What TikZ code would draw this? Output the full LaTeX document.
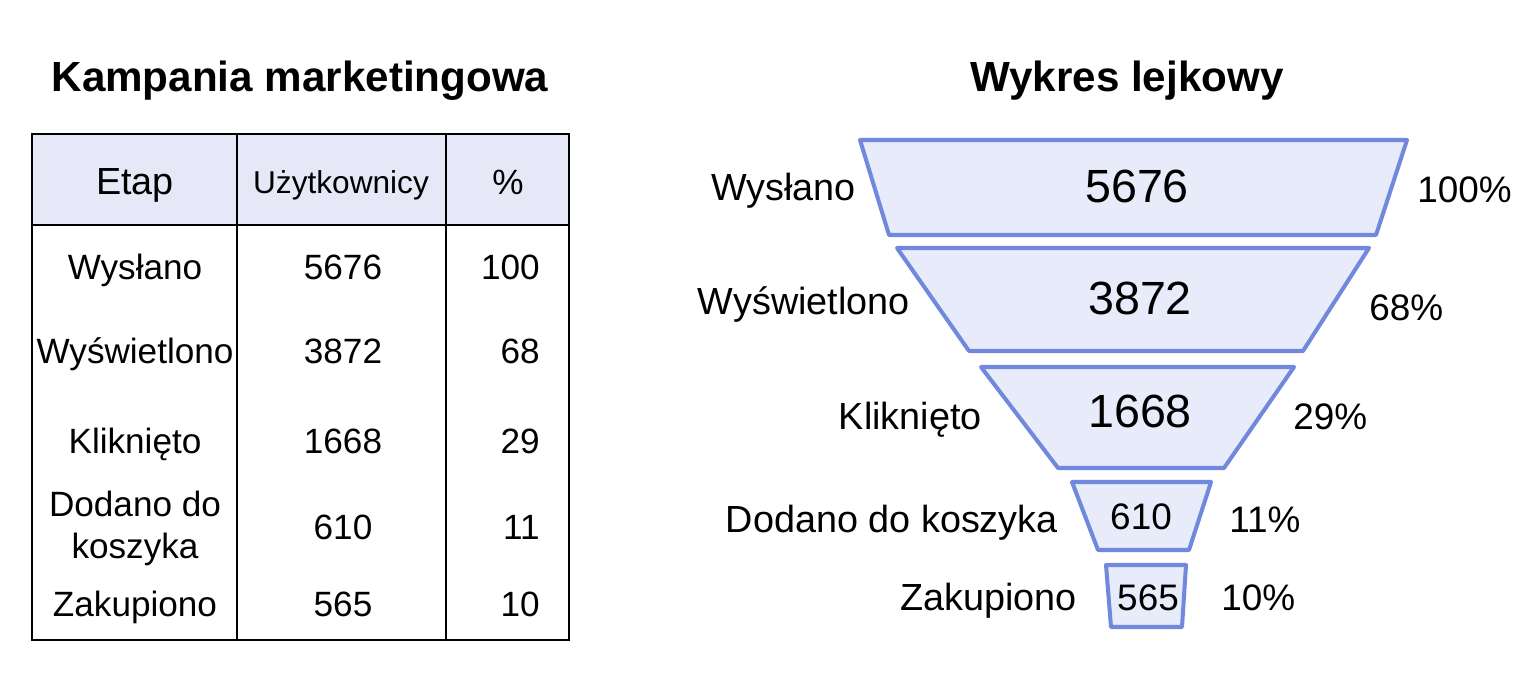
\documentclass[tikz,border=0pt]{standalone}
\usepackage{fontspec}
\setmainfont{Liberation Sans}
\usetikzlibrary{positioning}

\definecolor{headfill}{HTML}{E6E8F8}
\definecolor{stageline}{HTML}{7189DD}
\definecolor{stagefill}{HTML}{E8EBFA}

\tikzset{
  title/.style={font=\fontsize{24}{28}\selectfont\bfseries, inner sep=0pt},
  tabline/.style={line width=1.5pt, black},
  cell/.style={font=\fontsize{20}{24}\selectfont, inner sep=0pt, anchor=mid, align=center},
  stage/.style={line width=2.3pt, draw=stageline, fill=stagefill, line join=round},
  bignum/.style={font=\fontsize{26.5}{30}\selectfont, inner sep=0pt, anchor=mid},
  smallnum/.style={font=\fontsize{21}{24}\selectfont, inner sep=0pt, anchor=mid},
  flabel/.style={font=\fontsize{21.5}{24}\selectfont, inner sep=0pt, anchor=mid east},
  fpct/.style={font=\fontsize{21}{24}\selectfont, inner sep=0pt, anchor=mid west}
}

\begin{document}
\begin{tikzpicture}[x=0.02cm, y=-0.02cm]
  \useasboundingbox (0,0) rectangle (1527,688);

  % titles
  \node[title] (ttable) at (300,81) {Kampania marketingowa};
  \node[title] (tfunnel) at (1127,81) {Wykres lejkowy};

  % table
  \fill[headfill] (32,134) rectangle (569,225);
  \draw[tabline] (32,134) rectangle (569,640);
  \draw[tabline] (32,225) -- (569,225);
  \draw[tabline] (237,134) -- (237,640);
  \draw[tabline] (446,134) -- (446,640);

  \node[cell, font=\fontsize{21.5}{24}\selectfont] (hetap) at (135,190) {Etap};
  \node[cell, font=\fontsize{18}{21}\selectfont] (huser) at (341,189) {Użytkownicy};
  \node[cell] (hpct) at (508,190) {\%};

  \foreach \i/\nm/\val/\pct/\y in {1/Wysłano/5676/100/275,
                                   2/Wyświetlono/3872/68/359,
                                   3/Kliknięto/1668/29/449,
                                   5/Zakupiono/565/10/612}
  {
    \node[cell] (r\i) at (135,\y) {\nm};
    \node[cell] (v\i) at (343,\y) {\val};
    \node[cell, anchor=mid east] (p\i) at (540,\y) {\pct};
  }
  \node[cell, anchor=center] (r4) at (135,528) {Dodano do\\koszyka};
  \node[cell] (v4) at (343,535) {610};
  \node[cell, anchor=mid east] (p4) at (540,535) {11};

  % funnel
  \draw[stage] (860,140) -- (1407,140) -- (1376,235) -- (889,235) -- cycle;
  \node[bignum] (n1) at (1137,198) {5676};
  \node[flabel] (l1) at (856,196) {Wysłano};
  \node[fpct] (q1) at (1417,198) {100\%};

  \draw[stage] (897,248) -- (1369,248) -- (1303,351) -- (969,351) -- cycle;
  \node[bignum] (n2) at (1140,310) {3872};
  \node[flabel] (l2) at (910,310) {Wyświetlono};
  \node[fpct] (q2) at (1369,316) {68\%};

  \draw[stage] (981,367) -- (1294,367) -- (1224,468) -- (1058,468) -- cycle;
  \node[bignum] (n3) at (1140,423) {1668};
  \node[flabel] (l3) at (982,425) {Kliknięto};
  \node[fpct] (q3) at (1293,425) {29\%};

  \draw[stage] (1072,482) -- (1211,482) -- (1189,550) -- (1098,550) -- cycle;
  \node[smallnum] (n4) at (1141,525) {610};
  \node[flabel] (l4) at (1058,528) {Dodano do koszyka};
  \node[fpct] (q4) at (1229,528) {11\%};

  \draw[stage] (1106,565) -- (1186,565) -- (1182,627) -- (1111,627) -- cycle;
  \node[smallnum] (n5) at (1148,606) {565};
  \node[flabel] (l5) at (1077,606) {Zakupiono};
  \node[fpct] (q5) at (1221,606) {10\%};
\end{tikzpicture}
\end{document}
